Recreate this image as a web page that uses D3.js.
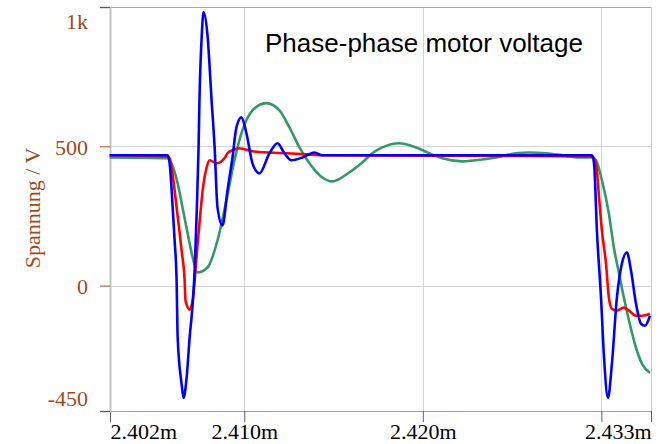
<!DOCTYPE html>
<html>
<head>
<meta charset="utf-8">
<script src="https://cdn.jsdelivr.net/npm/d3@7"></script>
<style>
  html, body { margin: 0; padding: 0; background: #fff; }
  svg { display: block; }
</style>
</head>
<body>
<svg id="chart" width="660" height="444"></svg>
<script>
// ─── Data (time in ms, voltage in V) ──────────────────────────────────────
const greenT = [2.40246, 2.40570, 2.40582, 2.40627, 2.40654, 2.40683, 2.40711, 2.40738, 2.40794, 2.40850,
  2.40900, 2.40945, 2.40990, 2.41046, 2.41124, 2.41197, 2.41253, 2.41309, 2.41365, 2.41437, 2.41493,
  2.41588, 2.41661, 2.41717, 2.41773, 2.41868, 2.41963, 2.42036, 2.42109, 2.42220, 2.42299, 2.42411,
  2.42522, 2.42595, 2.42690, 2.42780, 2.42875, 2.42947, 2.42970, 2.43003, 2.43042, 2.43070, 2.43099,
  2.43126, 2.43155, 2.43194, 2.43228, 2.43272];
const greenV = [460, 457, 450, 367, 281, 187, 101, 47, 65, 162,
  306, 450, 558, 629, 655, 629, 568, 496, 439, 388, 374,
  406, 442, 475, 496, 511, 496, 475, 457, 446, 450, 460,
  475, 478, 475, 468, 460, 460, 450, 378, 259, 137, 43,
  -43, -126, -223, -281, -313];

const redT = [2.40246, 2.40570, 2.40582, 2.40621, 2.40649, 2.40666, 2.40671, 2.40694, 2.40711, 2.40722,
  2.40734, 2.40749, 2.40767, 2.40789, 2.40806, 2.40845, 2.40889, 2.40906, 2.40934, 2.40973, 2.41046,
  2.41141, 2.41236, 2.41348, 2.41421, 2.42947, 2.42970, 2.42987, 2.43003, 2.43026, 2.43042, 2.43059,
  2.43087, 2.43126, 2.43155, 2.43194, 2.43228, 2.43272];
const redV = [468, 464, 457, 281, 126, 18, -54, -86, -54, 18,
  115, 223, 342, 424, 450, 439, 457, 475, 486, 493, 482,
  478, 475, 471, 468, 464, 439, 317, 198, 79, -43, -83,
  -90, -79, -90, -108, -108, -101];

const blueT = [2.40246, 2.40570, 2.40582, 2.40599, 2.40610, 2.40621, 2.40627, 2.40649, 2.40660, 2.40677,
  2.40694, 2.40711, 2.40722, 2.40734, 2.40744, 2.40749, 2.40762, 2.40772, 2.40794, 2.40817, 2.40834,
  2.40850, 2.40878, 2.40906, 2.40934, 2.40956, 2.40984, 2.41012, 2.41046, 2.41085, 2.41141, 2.41186,
  2.41225, 2.41264, 2.41326, 2.41393, 2.41437, 2.42947, 2.42959, 2.42975, 2.42998, 2.43015, 2.43037,
  2.43059, 2.43087, 2.43115, 2.43143, 2.43166, 2.43194, 2.43222, 2.43244, 2.43272];
const blueV = [468, 468, 439, 281, 162, 18, -187, -353, -403, -331,
  -187, -65, 54, 270, 496, 665, 899, 982, 899, 665, 496,
  281, 216, 342, 460, 568, 604, 547, 439, 403, 475, 511,
  475, 450, 460, 478, 468, 468, 439, 198, -43, -259, -403,
  -281, -43, 79, 119, 54, -65, -137, -144, -108];

const xDomain = [2.40248, 2.43278];
const xTicks = [2.40248, 2.410, 2.420, 2.430, 2.43278];
const xTickLabels = ["2.402m", "2.410m", "2.420m", "", "2.433m"];
const yDomain = [-450, 1000];
const yTicks = [-450, 0, 500, 1000];
const yTickLabels = ["-450", "0", "500", "1k"];

const SERIES = [
  { t: greenT, v: greenV, color: "#339966" },
  { t: redT,   v: redV,   color: "#ff0000" },
  { t: blueT,  v: blueV,  color: "#0000ff" },
];

// ─── Layout ────────────────────────────────────────────────────────────────
const PLOT = { left: 110, right: 651, top: 7, bottom: 411 };
const BROWN = "#a04a1c";
const SERIF = "'Liberation Serif', 'Times New Roman', serif";

const x = d3.scaleLinear().domain(xDomain).range([PLOT.left, PLOT.right]);
const y = d3.scaleLinear().domain(yDomain).range([PLOT.bottom, PLOT.top]);

const svg = d3.select("#chart");

// ── Grid ───────────────────────────────────────────────────────────────────
svg.append("g").selectAll("line")
  .data([2.410, 2.420, 2.430]).join("line")
  .attr("x1", d => Math.round(x(d)) + 0.5).attr("x2", d => Math.round(x(d)) + 0.5)
  .attr("y1", PLOT.top).attr("y2", PLOT.bottom)
  .attr("stroke", "#d4d4d4").attr("stroke-width", 1);

svg.append("g").selectAll("line")
  .data([0, 500]).join("line")
  .attr("x1", PLOT.left).attr("x2", PLOT.right)
  .attr("y1", d => Math.round(y(d)) + 0.5).attr("y2", d => Math.round(y(d)) + 0.5)
  .attr("stroke", "#d4d4d4").attr("stroke-width", 1);

// frame: top and right edges
svg.append("line")
  .attr("x1", PLOT.left).attr("x2", PLOT.right)
  .attr("y1", PLOT.top + 0.5).attr("y2", PLOT.top + 0.5)
  .attr("stroke", "#a8a8a8");
svg.append("line")
  .attr("x1", PLOT.right + 0.5).attr("x2", PLOT.right + 0.5)
  .attr("y1", PLOT.top).attr("y2", PLOT.bottom)
  .attr("stroke", "#c8c8c8");

// ── Axes ───────────────────────────────────────────────────────────────────
const xAxis = svg.append("g")
  .attr("transform", `translate(0,${PLOT.bottom})`)
  .call(d3.axisBottom(x).tickValues(xTicks).tickSizeOuter(0).tickSize(11).tickPadding(5)
    .tickFormat((d, i) => xTickLabels[i]));
xAxis.select(".domain").attr("stroke", "#a0a0a0");
xAxis.selectAll(".tick line").attr("stroke", "#606060");
xAxis.selectAll(".tick text")
  .attr("font-family", SERIF).attr("font-size", 22).attr("fill", "#000")
  .attr("text-anchor", (d, i) => i === 0 ? "start" : i === xTicks.length - 1 ? "end" : "middle")
  .attr("dy", null).attr("y", 28);

const yAxis = svg.append("g")
  .attr("transform", `translate(${PLOT.left},0)`)
  .call(d3.axisLeft(y).tickValues(yTicks).tickSizeOuter(0).tickSize(10).tickPadding(12)
    .tickFormat((d, i) => yTickLabels[i]));
yAxis.select(".domain").attr("stroke", "#c4c4c4").attr("stroke-width", 2);
yAxis.selectAll(".tick line").attr("stroke", BROWN);
yAxis.selectAll(".tick text")
  .attr("font-family", SERIF).attr("font-size", 22).attr("fill", BROWN)
  .attr("dy", null)
  // edge labels sit inside the range
  .attr("y", d => d === 1000 ? 21 : d === -450 ? -6 : 8);

svg.append("text")
  .attr("transform", "translate(40,208) rotate(-90)")
  .attr("text-anchor", "middle")
  .attr("font-family", SERIF).attr("font-size", 22).attr("fill", BROWN)
  .text("Spannung / V");

// ── Traces ─────────────────────────────────────────────────────────────────
const line = d3.line().x(d => x(d[0])).y(d => y(d[1])).curve(d3.curveMonotoneX);

svg.append("g").selectAll("path")
  .data(SERIES).join("path")
  .attr("d", s => line(d3.zip(s.t, s.v)))
  .attr("fill", "none")
  .attr("stroke", s => s.color)
  .attr("stroke-width", 2.6)
  .attr("stroke-linejoin", "round");

// ── Title ──────────────────────────────────────────────────────────────────
svg.append("text")
  .attr("x", 265).attr("y", 52)
  .attr("font-family", "'Liberation Sans', Arial, sans-serif")
  .attr("font-size", 26).attr("fill", "#000")
  .text("Phase-phase motor voltage");
</script>
</body>
</html>
